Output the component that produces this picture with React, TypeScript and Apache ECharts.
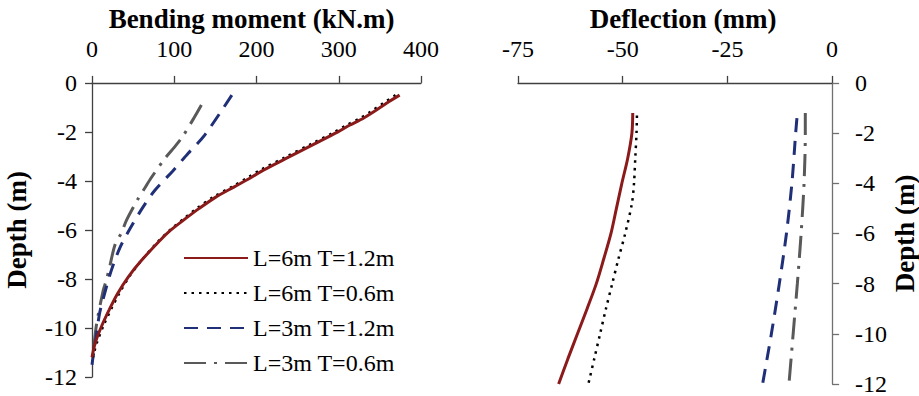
import React, { useEffect, useRef } from "react";
import * as echarts from "echarts";

const seriesNames = ["L=6m T=1.2m", "L=6m T=0.6m", "L=3m T=1.2m", "L=3m T=0.6m"];

// Bending moment (kN.m) vs depth (m)
const bmDepthL6 = [-0.5, -0.83, -1.17, -1.44, -1.73, -2.0, -2.5, -3.03, -3.55, -3.83, -4.24, -4.67, -5.13, -5.53, -6.0, -6.45, -7.25, -7.92, -8.6, -9.25, -9.9, -10.6, -11.2];
const bmL6T12 = [374, 358, 343, 330, 313, 299, 270, 239, 209, 195, 173, 150, 130, 114, 96, 82, 60, 44, 31, 21, 12, 4, 0];
const bmL6T06 = [369, 354, 339, 326, 309, 295, 266, 235, 205, 191, 170, 147, 127, 112, 95, 81, 60, 45, 33, 23, 14, 6, 1];
const bmDepthL3T12 = [-0.5, -2.13, -2.87, -3.6, -4.4, -5.07, -5.9, -6.72, -7.65, -8.59, -9.39, -10.3, -11.2, -11.5];
const bmL3T12 = [170, 137, 117, 98, 76, 62, 47, 34, 23.5, 15.4, 9.3, 5.3, 1.2, 0];
const bmDepthL3T06 = [-0.9, -1.37, -2.2, -2.63, -3.07, -3.87, -4.3, -4.73, -5.6, -6.1, -6.6, -7.5, -8.05, -8.5, -9.9, -11.5];
const bmL3T06 = [133, 125, 110, 100, 89, 72, 64, 56, 42, 36, 28, 21.5, 17.4, 13.4, 5.3, 0];

// Deflection (mm) vs depth (m)
const dfDepthL6T12 = [-1.2, -2, -3, -4, -5, -6, -7, -8, -9, -10, -11, -12];
const dfL6T12 = [-47.6, -47.8, -48.8, -50.2, -51.5, -52.8, -54.5, -56.3, -58.5, -60.8, -63.1, -65.3];
const dfDepthL6T06 = [-1.3, -2, -3, -4, -4.8, -6, -7, -8, -9, -10, -11, -12];
const dfL6T06 = [-46.6, -46.7, -47.0, -47.3, -47.8, -49.4, -51.0, -52.5, -54.0, -55.4, -56.8, -58.2];
const dfDepthL3T12 = [-1.4, -2, -4, -6, -8, -10, -12];
const dfL3T12 = [-8.4, -8.7, -9.6, -10.9, -12.6, -14.5, -16.6];
const dfDepthL3T06 = [-1.2, -2, -4, -6, -8, -10, -12];
const dfL3T06 = [-6.4, -6.4, -6.7, -7.4, -8.3, -9.3, -10.3];

const FONT = "'Times New Roman', 'Liberation Serif', 'DejaVu Serif', serif";

const pair = (xs: number[], ys: number[]) => xs.map((x, i) => [x, ys[i]]);

const styles = [
  { color: "#8B1A1A", width: 3, type: "solid" as any },
  { color: "#000000", width: 2.5, type: [2.5, 5] as any },
  { color: "#1F2F78", width: 3, type: [14, 9] as any },
  { color: "#595959", width: 3, type: [22, 8, 3, 8] as any },
];

export default function App() {
  const ref = useRef<HTMLDivElement>(null);
  useEffect(() => {
    document.body.style.margin = "0";
    if (!ref.current) return;
    const chart = echarts.init(ref.current, undefined, { renderer: "svg" });
    const axisLine = { show: true, onZero: false, lineStyle: { color: "#404040", width: 1.3 } };
    const axisTick = { show: true, inside: false, length: 7, lineStyle: { color: "#404040", width: 1.3 } };
    const label = { color: "#000", fontSize: 24, fontFamily: FONT };
    const nameStyle = { color: "#000", fontSize: 27, fontWeight: "bold" as const, fontFamily: FONT };

    const mk = (i: number, xi: number, data: number[][]) => ({
      type: "line",
      name: seriesNames[i],
      xAxisIndex: xi,
      yAxisIndex: xi,
      data,
      symbol: "none",
      smooth: 0.3,
      lineStyle: styles[i],
      itemStyle: { color: styles[i].color },
      z: 10 - i,
    });

    chart.setOption({
      animation: false,
      backgroundColor: "#fff",
      textStyle: { fontFamily: FONT },
      legend: {
        orient: "vertical",
        left: 178,
        top: 241,
        itemWidth: 64,
        itemHeight: 14,
        itemGap: 11,
        data: seriesNames,
        itemStyle: { opacity: 0 },
        textStyle: { color: "#000", fontSize: 24, fontFamily: FONT },
      },
      grid: [
        { left: 92, top: 77, width: 329, height: 300 },
        { left: 518, top: 77, width: 317, height: 307 },
      ],
      xAxis: [
        {
          gridIndex: 0,
          type: "value",
          position: "top",
          min: 0,
          max: 400,
          interval: 100,
          name: "Bending moment (kN.m)",
          nameLocation: "middle",
          nameGap: 50,
          nameTextStyle: { ...nameStyle, padding: [0, 10, 0, 0] },
          axisLine,
          axisTick,
          axisLabel: { ...label, margin: 22 },
          splitLine: { show: false },
        },
        {
          gridIndex: 1,
          type: "value",
          position: "top",
          min: -75,
          max: 0,
          interval: 25,
          name: "Deflection (mm)",
          nameLocation: "middle",
          nameGap: 50,
          nameTextStyle: { ...nameStyle, padding: [0, 0, 0, 16] },
          axisLine,
          axisTick,
          axisLabel: { ...label, margin: 22 },
          splitLine: { show: false },
        },
      ],
      yAxis: [
        {
          gridIndex: 0,
          type: "value",
          position: "left",
          min: -12,
          max: 0,
          interval: 2,
          name: "Depth (m)",
          nameLocation: "middle",
          nameRotate: 90,
          nameGap: 62,
          nameTextStyle: nameStyle,
          axisLine,
          axisTick,
          axisLabel: { ...label, margin: 15, padding: [0, 0, 10, 0] },
          splitLine: { show: false },
        },
        {
          gridIndex: 1,
          type: "value",
          position: "right",
          min: -12,
          max: 0,
          interval: 2,
          name: "Depth (m)",
          nameLocation: "middle",
          nameRotate: 90,
          nameGap: 48,
          nameTextStyle: nameStyle,
          axisLine: { ...axisLine, lineStyle: { color: "#707070", width: 1.3 } },
          axisTick: { ...axisTick, lineStyle: { color: "#707070", width: 1.3 } },
          axisLabel: { ...label, margin: 23, padding: [0, 0, 10, 0] },
          splitLine: { show: false },
        },
      ],
      series: [
        mk(0, 0, pair(bmL6T12, bmDepthL6)),
        mk(1, 0, pair(bmL6T06, bmDepthL6)),
        mk(2, 0, pair(bmL3T12, bmDepthL3T12)),
        mk(3, 0, pair(bmL3T06, bmDepthL3T06)),
        mk(0, 1, pair(dfL6T12, dfDepthL6T12)),
        mk(1, 1, pair(dfL6T06, dfDepthL6T06)),
        mk(2, 1, pair(dfL3T12, dfDepthL3T12)),
        mk(3, 1, pair(dfL3T06, dfDepthL3T06)),
      ],
    });
    return () => chart.dispose();
  }, []);
  return <div ref={ref} style={{ width: 919, height: 396 }} />;
}
